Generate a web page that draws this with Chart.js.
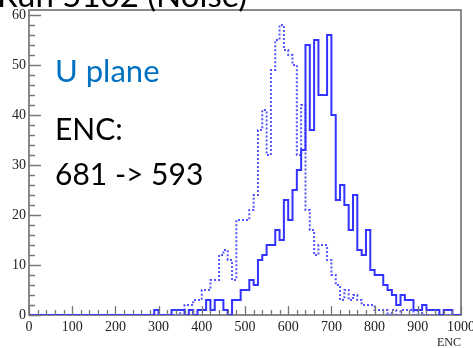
<!DOCTYPE html>
<html>
<head>
<meta charset="utf-8">
<script src="https://cdn.jsdelivr.net/npm/chart.js@4.4.0/dist/chart.umd.min.js"></script>
<style>
html,body{margin:0;padding:0;background:#fff;overflow:hidden;}
#wrap{position:relative;width:473px;height:348px;overflow:hidden;}
#chart{position:absolute;left:0;top:0;}
.note{position:absolute;font-family:Lato,"Open Sans",sans-serif;font-size:30px;line-height:30px;white-space:nowrap;color:#000;}
</style>
</head>
<body>
<div id="wrap">
<canvas id="chart" width="473" height="348"></canvas>
<div class="note" style="left:-3px;top:-22px;font-size:33px;line-height:33px;">Run 5102 (Noise)</div>
<div class="note" style="left:55px;top:55px;color:#0070c0;font-size:31px;">U plane</div>
<div class="note" style="left:55px;top:113px;">ENC:</div>
<div class="note" style="left:55px;top:158px;">681 -&gt; 593</div>
</div>
<script>
// histogram bins: 10 ENC wide, 0 -> 1000
let encMin = 0;
let encMax = 1000;
let binWidth = 10;

let xTicks = [0,100,200,300,400,500,600,700,800,900,1000];
let xTickLabels = ["0","100","200","300","400","500","600","700","800","900","1000"];
let yTicks = [0,10,20,30,40,50,60];
let yTickLabels = ["0","10","20","30","40","50","60"];
let xTitle = "ENC";

// solid line, before (ENC 681)
let before = [
0,0,0,0,0,0,0,0,0,0,
0,0,0,0,0,0,0,0,0,0,
0,0,0,0,0,0,0,0,0,0,
1,0,0,0,1,1,1,0,1,0,
1,1,3,1,3,3,1,0,3,3,
5,5,7,6,11,12,14,14,17,15,
23,19,25,29,33,54,37,55,44,44,
56,40,23,26,22,17,24,13,12,17,
9,8,8,6,5,4,2,4,3,3,
1,1,2,1,1,1,0,1,1,0
];

// dotted line, after (ENC 593)
let after = [
0,0,0,0,0,0,0,0,0,0,
0,0,0,0,0,0,0,0,0,0,
0,0,0,0,0,0,0,0,0,0,
0,0,0,0,0,0,1,2,2,3,
3,5,5,7,7,12,13,11,7,19,
19,19,21,24,37,41,32,49,55,58,
53,52,50,32,42,21,17,12,14,14,
11,8,6,3,5,3,4,3,2,2,
2,1,1,1,0,1,0,1,1,1,
0,1,0,0,0,0,0,0,0,0
];

function toPoints(values){
let pts = [];
for(let i=0;i<values.length;i++){
pts.push({x: encMin + i*binWidth, y: values[i]});
}
pts.push({x: encMax, y: values[values.length-1]});
return pts;
}

// ROOT style frame, inner ticks and serif labels
const rootAxes = {
id: "rootAxes",
beforeDatasetsDraw(chart){
const c = chart.ctx;
const a = chart.chartArea;
c.save();
c.strokeStyle = "#666";
c.lineWidth = 1.5;
c.strokeRect(a.left, a.top, a.right-a.left, a.bottom-a.top);
c.restore();
},
afterDraw(chart){
const c = chart.ctx;
const a = chart.chartArea;
const xs = chart.scales.x;
const ys = chart.scales.y;
c.save();
c.strokeStyle = "#777";
c.lineWidth = 1.3;
c.beginPath();
// y ticks, minor every 2
for(let v=0; v<=ys.max; v+=2){
let y = Math.round(ys.getPixelForValue(v))+0.5;
let len = (v % 10 === 0) ? 12 : 6;
c.moveTo(a.left, y);
c.lineTo(a.left+len, y);
}
// x ticks, minor every 20
for(let v=0; v<=xs.max; v+=20){
let x = Math.round(xs.getPixelForValue(v))+0.5;
let len = (v % 100 === 0) ? 9 : 5;
c.moveTo(x, a.bottom);
c.lineTo(x, a.bottom-len);
}
c.stroke();

c.fillStyle = "#222";
c.font = "14px 'Liberation Serif', 'DejaVu Serif', serif";
c.textAlign = "right";
c.textBaseline = "middle";
yTicks.forEach((v,i)=>{
c.fillText(yTickLabels[i], a.left-3, ys.getPixelForValue(v));
});
c.textAlign = "center";
c.textBaseline = "top";
xTicks.forEach((v,i)=>{
c.fillText(xTickLabels[i], xs.getPixelForValue(v), a.bottom+5);
});
c.font = "12px 'Liberation Serif', serif";
c.textAlign = "right";
c.textBaseline = "alphabetic";
c.fillText(xTitle, a.right, 346);
c.restore();
}
};

new Chart(document.getElementById("chart"),{
type:"line",
data:{
datasets:[{
label:"before",
data: toPoints(before),
borderColor:"#3333ff",
borderWidth:2,
stepped:"after",
pointRadius:0,
fill:false,
order:0
},{
label:"after",
data: toPoints(after),
borderColor:"#5555ff",
borderWidth:2,
borderDash:[2,2],
stepped:"after",
pointRadius:0,
fill:false,
order:1
}]
},
options:{
responsive:false,
animation:false,
devicePixelRatio:1,
layout:{padding:{left:29, right:12, top:10, bottom:33}},
scales:{
x:{type:"linear", min:encMin, max:encMax, display:false},
y:{min:0, max:61, display:false}
},
plugins:{
legend:{display:false},
tooltip:{enabled:false}
}
},
plugins:[rootAxes]
});
</script>
</body>
</html>
